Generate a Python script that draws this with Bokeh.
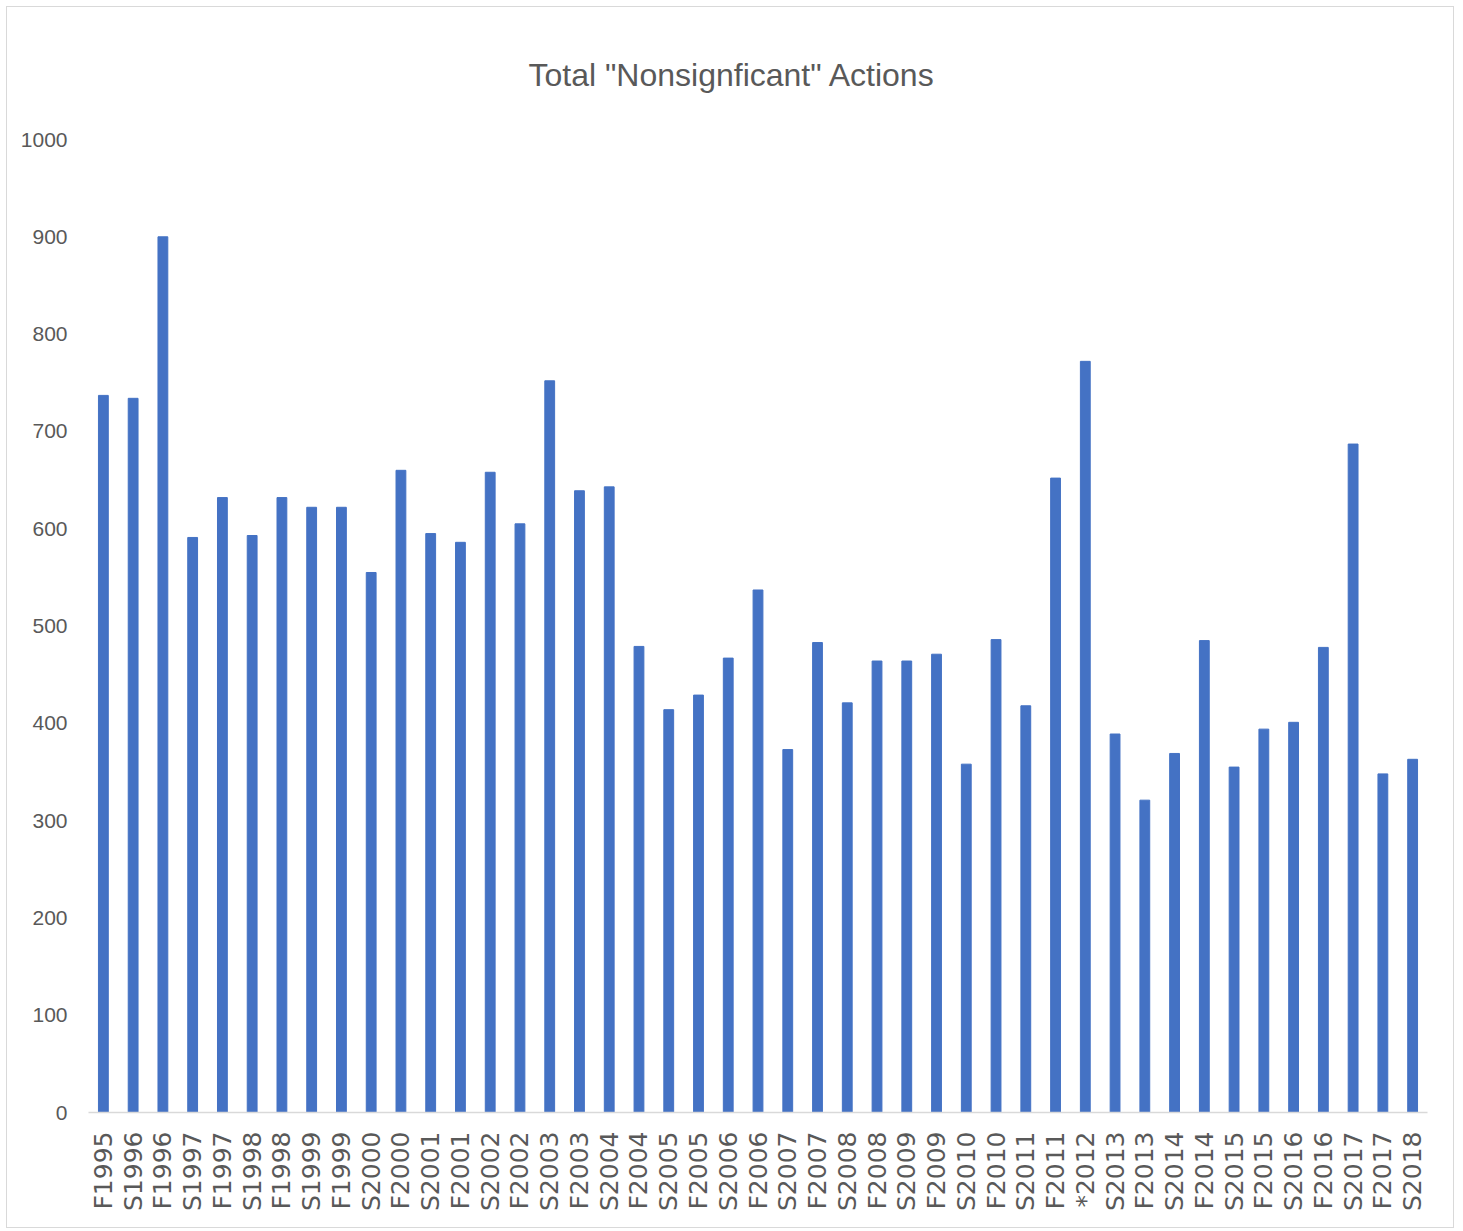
import math
from bokeh.plotting import figure
from bokeh.models import FactorRange, Range1d, FixedTicker, ColumnDataSource
from bokeh.embed import file_html
from bokeh.resources import INLINE

title_text = 'Total "Nonsignficant" Actions'

categories = ["F1995", "S1996", "F1996", "S1997", "F1997", "S1998", "F1998", "S1999",
              "F1999", "S2000", "F2000", "S2001", "F2001", "S2002", "F2002", "S2003",
              "F2003", "S2004", "F2004", "S2005", "F2005", "S2006", "F2006", "S2007",
              "F2007", "S2008", "F2008", "S2009", "F2009", "S2010", "F2010", "S2011",
              "F2011", "*2012", "S2013", "F2013", "S2014", "F2014", "S2015", "F2015",
              "S2016", "F2016", "S2017", "F2017", "S2018"]

values = [737, 734, 900, 591, 632, 593, 632, 622,
          622, 555, 660, 595, 586, 658, 605, 752,
          639, 643, 479, 414, 429, 467, 537, 373,
          483, 421, 464, 464, 471, 358, 486, 418,
          652, 772, 389, 321, 369, 485, 355, 394,
          401, 478, 687, 348, 363]

y_ticks = [0, 100, 200, 300, 400, 500, 600, 700, 800, 900, 1000]

SANS = "Liberation Sans"
GRAY = "#595959"

source = ColumnDataSource(dict(cat=categories, val=values))

p = figure(width=1448, height=1222, output_backend="svg", toolbar_location=None,
           x_range=FactorRange(factors=categories, range_padding=0),
           y_range=Range1d(0, 1000),
           min_border_left=81, min_border_right=28,
           min_border_top=132, min_border_bottom=117,
           title=title_text)
p.styles = {"border": "1px solid #d9d9d9", "margin-left": "6px", "margin-top": "6px"}

p.vbar(x="cat", top="val", width=0.33, source=source,
       fill_color="#4472C4", line_color="#4472C4")

p.title.align = "left"
p.title.offset = 440
p.title.standoff = 94
p.title.text_font = SANS
p.title.text_font_size = "32px"
p.title.text_font_style = "normal"
p.title.text_color = GRAY

p.outline_line_color = None
p.xgrid.visible = False
p.ygrid.visible = False

p.yaxis.ticker = FixedTicker(ticks=y_ticks)
p.yaxis.axis_line_color = None
p.yaxis.major_tick_line_color = None
p.yaxis.minor_tick_line_color = None
p.yaxis.major_tick_out = 0
p.yaxis.major_label_standoff = 21
p.yaxis.major_label_text_font = SANS
p.yaxis.major_label_text_font_size = "21px"
p.yaxis.major_label_text_color = GRAY

p.xaxis.axis_line_color = "#d9d9d9"
p.xaxis.axis_line_width = 1.5
p.xaxis.major_tick_line_color = None
p.xaxis.major_tick_out = 0
p.xaxis.major_label_standoff = 19
p.xaxis.major_label_orientation = math.pi / 2
p.xaxis.major_label_text_font = "DejaVu Sans"
p.xaxis.major_label_text_font_size = "25px"
p.xaxis.major_label_text_color = GRAY

open("out.html", "w").write(file_html(p, INLINE))
